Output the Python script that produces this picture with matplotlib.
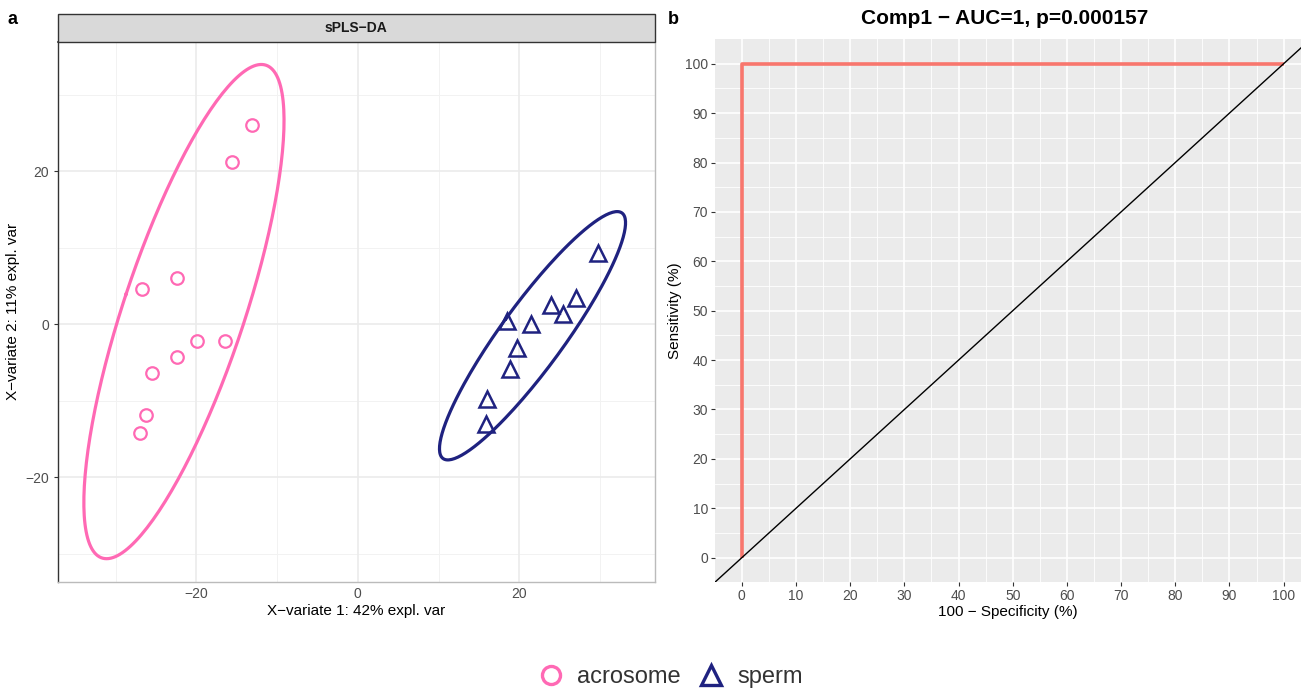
import numpy as np
import matplotlib
matplotlib.use('Agg')
import matplotlib.pyplot as plt
from matplotlib.lines import Line2D
from matplotlib.patches import Rectangle

plt.rcParams['font.family'] = ['Liberation Sans', 'DejaVu Sans']

# ---------------- data ----------------
groups = ['acrosome', 'sperm']
acrosome_x = [-13.1, -15.6, -22.4, -26.7, -19.9, -16.5, -22.4, -25.5, -26.3, -27.0]
acrosome_y = [26.0, 21.2, 6.0, 4.6, -2.2, -2.2, -4.3, -6.4, -11.9, -14.2]
sperm_x = [29.7, 27.0, 23.9, 25.4, 21.4, 18.5, 19.7, 18.8, 16.0, 15.9]
sperm_y = [9.3, 3.4, 2.5, 1.3, 0.0, 0.4, -3.1, -5.9, -9.8, -13.1]
xticks_left = [-20, 0, 20]
yticks_left = [-20, 0, 20]

roc_fpr = [0, 0, 100]      # 100 - specificity (%)
roc_tpr = [0, 100, 100]    # sensitivity (%)
roc_ticks = list(range(0, 101, 10))

col_acro = '#FF69B4'
col_sperm = '#1F2280'
col_roc = '#F8766D'

W, H = 1301, 689
fig = plt.figure(figsize=(W / 100, H / 100), dpi=100)


def fx(px):
    return px / W


def fy(py):
    return 1 - py / H


# ---------------- panel a ----------------
axL = fig.add_axes([fx(57.5), fy(581.7), fx(655) - fx(57.5), fy(42) - fy(581.7)])
axL.set_facecolor('white')
axL.set_xlim(-37.2, 36.8)
axL.set_ylim(-33.65, 36.9)
for v in [-30, -10, 10, 30]:
    axL.axvline(v, color='#F2F2F2', lw=0.7, zorder=0)
    axL.axhline(v, color='#F2F2F2', lw=0.7, zorder=0)
for v in xticks_left:
    axL.axvline(v, color='#EBEBEB', lw=1.2, zorder=0)
for v in yticks_left:
    axL.axhline(v, color='#EBEBEB', lw=1.2, zorder=0)


def conf_ellipse(x, y, level_t=np.sqrt(-2 * np.log(0.05)), n=200):
    x = np.asarray(x); y = np.asarray(y)
    c = np.array([x.mean(), y.mean()])
    cov = np.cov(x, y, ddof=1)
    vals, vecs = np.linalg.eigh(cov)
    a = np.linspace(0, 2 * np.pi, n)
    circ = np.vstack([np.cos(a), np.sin(a)])
    pts = vecs @ (np.sqrt(vals)[:, None] * circ) * level_t
    return c[0] + pts[0], c[1] + pts[1]


ex, ey = conf_ellipse(acrosome_x, acrosome_y)
axL.plot(ex, ey, color=col_acro, lw=2.3, zorder=2)
ex, ey = conf_ellipse(sperm_x, sperm_y)
axL.plot(ex, ey, color=col_sperm, lw=2.3, zorder=2)

axL.plot(acrosome_x, acrosome_y, 'o', ms=9, mfc='none', mec=col_acro, mew=1.6, zorder=3)
axL.plot(sperm_x, sperm_y, '^', ms=11, mfc='none', mec=col_sperm, mew=1.8, zorder=3)

axL.set_xticks(xticks_left)
axL.set_yticks(yticks_left)
axL.set_xticklabels([str(v).replace('-', '\u2212') for v in xticks_left])
axL.set_yticklabels([str(v).replace('-', '\u2212') for v in yticks_left])
axL.tick_params(axis='x', length=0, pad=4, labelsize=10, labelcolor='#4D4D4D')
axL.tick_params(axis='y', length=3, width=0.8, color='#333333', pad=3, labelsize=10, labelcolor='#4D4D4D')
for s in ['left']:
    axL.spines[s].set_color('#333333'); axL.spines[s].set_linewidth(1.0)
for s in ['bottom', 'right']:
    axL.spines[s].set_color('#BBBBBB'); axL.spines[s].set_linewidth(1.0)
axL.spines['top'].set_color('#333333'); axL.spines['top'].set_linewidth(1.2)
axL.set_xlabel('X\u2212variate 1: 42% expl. var', fontsize=11, labelpad=2, color='black')
axL.set_ylabel('X\u2212variate 2: 11% expl. var', fontsize=11, labelpad=4, color='black')

# strip
fig.patches.append(Rectangle((fx(57.5), fy(42)), fx(655) - fx(57.5), fy(14) - fy(42),
                             transform=fig.transFigure, facecolor='#D9D9D9',
                             edgecolor='#333333', lw=1.0, zorder=1))
fig.text(fx(356), fy(28), 'sPLS\u2212DA', ha='center', va='center', fontsize=10,
         color='#1A1A1A', fontweight='bold')

fig.text(fx(13), fy(20), 'a', ha='center', va='center', fontsize=13, fontweight='bold')

# ---------------- panel b ----------------
axR = fig.add_axes([fx(715), fy(582.4), fx(1301) - fx(715), fy(39) - fy(582.4)])
axR.set_facecolor('#EBEBEB')
axR.set_xlim(-4.95, 103.2)
axR.set_ylim(-5, 105)
for v in range(5, 101, 10):
    axR.axvline(v, color='white', lw=0.6, zorder=0)
    axR.axhline(v, color='white', lw=0.6, zorder=0)
for v in roc_ticks:
    axR.axvline(v, color='white', lw=1.2, zorder=0)
    axR.axhline(v, color='white', lw=1.2, zorder=0)

axR.plot(roc_fpr, roc_tpr, color=col_roc, lw=2.6, solid_capstyle='butt', zorder=2)
axR.plot([-10, 120], [-10, 120], color='black', lw=1.0, zorder=3)

axR.set_xticks(roc_ticks)
axR.set_yticks(roc_ticks)
axR.tick_params(length=3, width=0.8, color='#333333', pad=2, labelsize=10, labelcolor='#4D4D4D')
for s in axR.spines.values():
    s.set_visible(False)
axR.set_xlabel('100 \u2212 Specificity (%)', fontsize=11, labelpad=1)
axR.set_ylabel('Sensitivity (%)', fontsize=11, labelpad=2)

fig.text(fx(1005), fy(19), 'Comp1 \u2212 AUC=1, p=0.000157', ha='center', va='center',
         fontsize=15, fontweight='bold')
fig.text(fx(673), fy(20), 'b', ha='center', va='center', fontsize=13, fontweight='bold')

# ---------------- legend ----------------
handles = [
    Line2D([], [], marker='o', ls='none', ms=13, mfc='none', mec=col_acro, mew=2.4, label=groups[0]),
    Line2D([], [], marker='^', ls='none', ms=14, mfc='none', mec=col_sperm, mew=2.4, label=groups[1]),
]
fig.legend(handles=handles, loc='center', bbox_to_anchor=(fx(670), fy(677)), ncol=2,
           frameon=False, fontsize=17, handletextpad=0.5, columnspacing=0.7,
           handlelength=1.2, labelcolor='#333333')

fig.savefig('out.png', dpi=100)
